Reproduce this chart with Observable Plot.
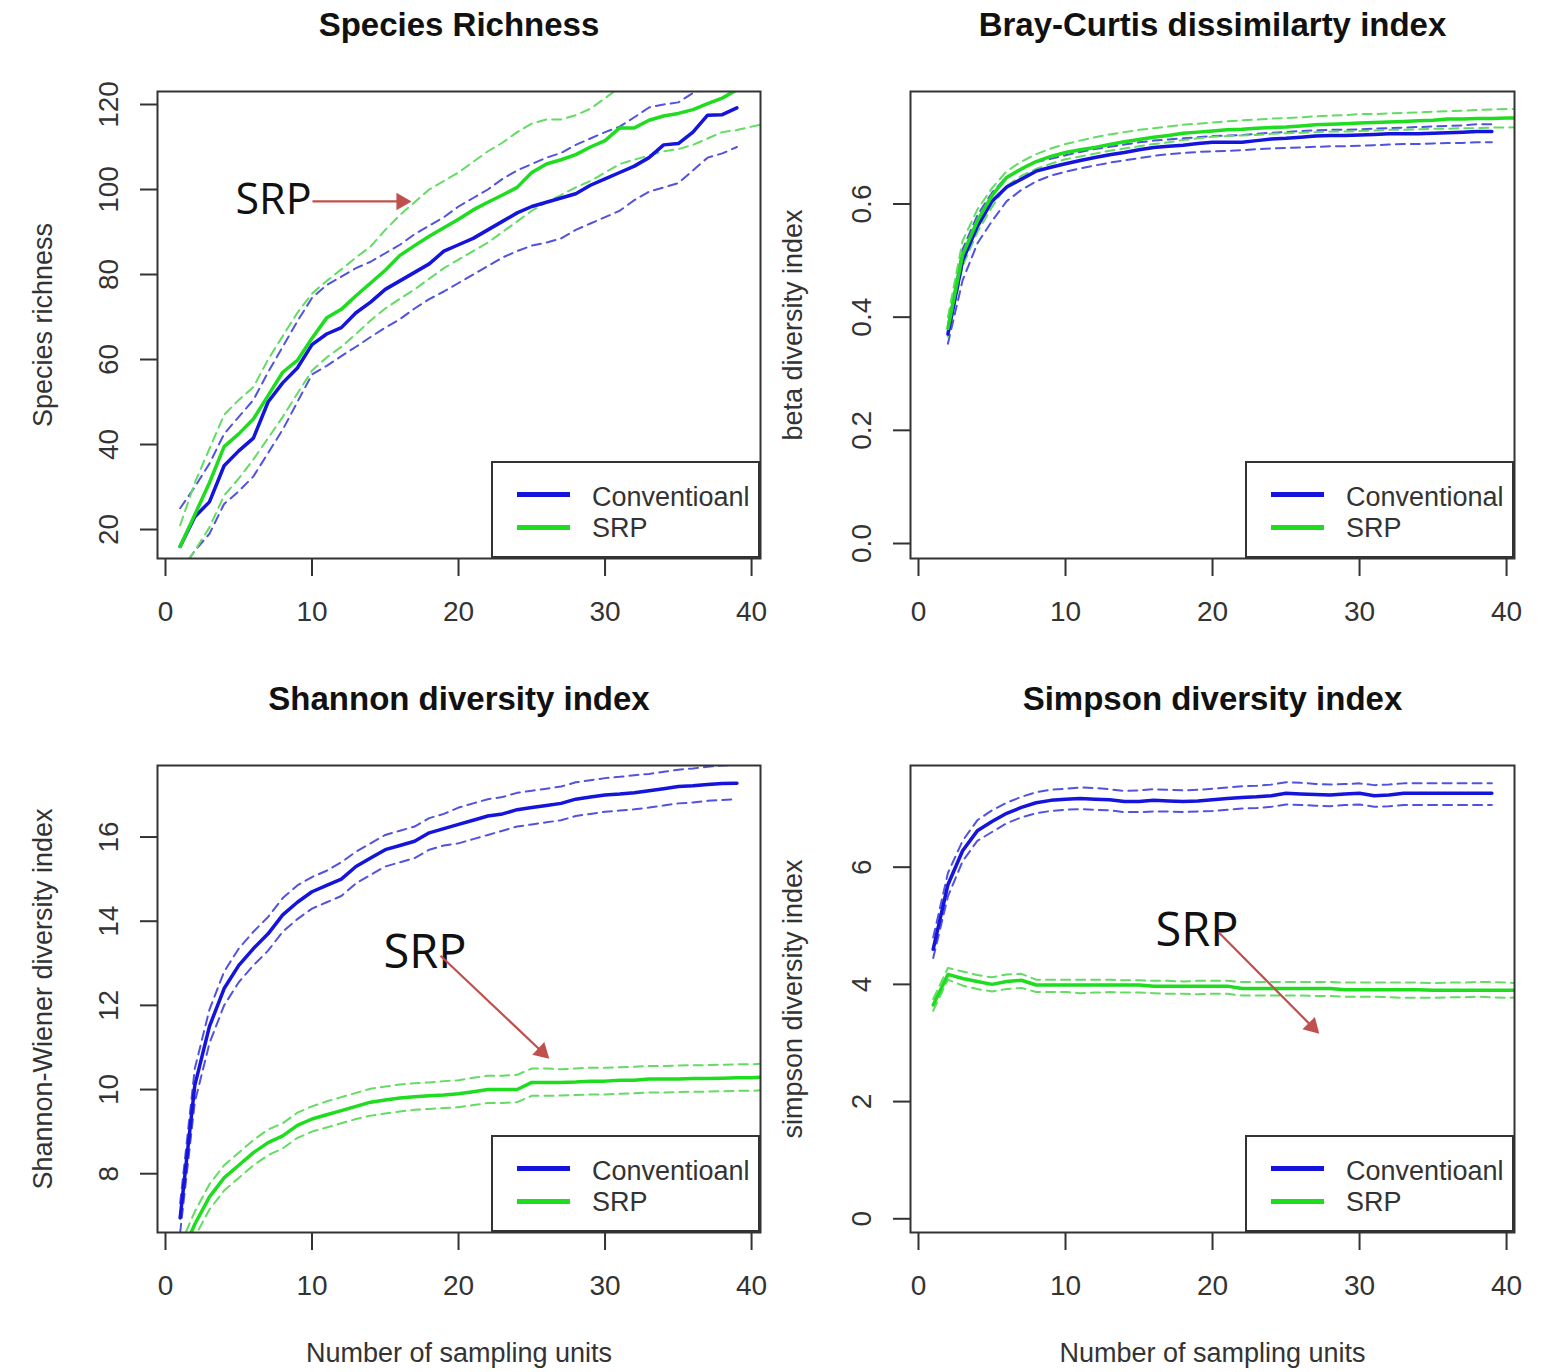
<!DOCTYPE html>
<html>
<head>
<meta charset="utf-8">
<script src="https://cdn.jsdelivr.net/npm/d3@7"></script>
<script src="https://cdn.jsdelivr.net/npm/@observablehq/plot@0.6"></script>
<style>
  body { margin: 0; background: #fff; }
  #root { position: relative; width: 1541px; height: 1372px; overflow: hidden; background: #fff;
          font-family: "Liberation Sans", Arial, sans-serif; }
  #root svg { position: absolute; overflow: visible; }
  .legend { position: absolute; background: #fff; border: 2px solid #333; box-sizing: border-box; }
  .lk { position: absolute; left: 24px; width: 53px; height: 5px; margin-top: -2.5px; }
  .lt { position: absolute; left: 99px; font-size: 27px; line-height: 27px; color: #333; transform: translateY(-50%); white-space: nowrap; }
</style>
</head>
<body>
<div id="root"></div>
<script>
// ---------------- DATA ----------------
const unitsConv   = [1,2,3,4,5,6,7,8,9,10,11,12,13,14,15,16,17,18,19,20,21,22,23,24,25,26,27,28,29,30,31,32,33,34,35,36,37,38,39];
const unitsSRP    = [1,2,3,4,5,6,7,8,9,10,11,12,13,14,15,16,17,18,19,20,21,22,23,24,25,26,27,28,29,30,31,32,33,34,35,36,37,38,39,40,41];
const unitsConvBC = [2,3,4,5,6,7,8,9,10,11,12,13,14,15,16,17,18,19,20,21,22,23,24,25,26,27,28,29,30,31,32,33,34,35,36,37,38,39];
const unitsSRPBC  = [2,3,4,5,6,7,8,9,10,11,12,13,14,15,16,17,18,19,20,21,22,23,24,25,26,27,28,29,30,31,32,33,34,35,36,37,38,39,40,41];

// Species richness
const richConvMean  = [16,23,26.5,35,38.5,41.5,50,54.5,58,63.5,66,67.5,71,73.5,76.5,78.5,80.5,82.5,85.5,87,88.5,90.5,92.5,94.5,96,97,98,99,101,102.5,104,105.5,107.5,110.5,110.8,113.5,117.5,117.6,119.2];
const richConvUpper = [25,30,35.5,42.5,46.5,50.5,57,63,69,74.5,77.5,79.5,81.5,83,85,87,89.5,91.5,93.5,96,98,100,102.5,104.5,106,107.5,108.6,110.5,112,113.5,114.8,117,119.3,120,120.5,122.7,124,125,126];
const richConvLower = [10,15,19,26,29,32.5,38,43.5,50,56.5,58.5,60.8,63,65.3,67.5,69.5,72,74.2,76,78,80,82,84,85.5,86.8,87.5,88.5,90.5,92,93.5,95,97.5,99.5,100.5,101.5,104.5,107.5,108.5,110];
const richSRPMean   = [16,23.5,31,39.5,42.5,46,51.5,57,59.8,65,69.8,71.8,75,78,81,84.5,86.8,89,91,93,95.2,97,98.7,100.5,104,106,107,108.2,110,111.5,114.5,114.5,116.3,117.3,117.9,118.8,120.2,121.5,123.5,125,126.5];
const richSRPUpper  = [21,31,39,47,50.5,53.5,60,65.5,71,75.5,78.5,81.2,84,86.6,90.5,94,97,100,102,104,106.5,109,111,113.5,115.5,116.5,116.5,117.5,119,121.5,124,125.5,127,128,129,130,131,132,133,134,135];
const richSRPLower  = [10,15,20.5,28,32,36.5,41.5,46.5,52,57.4,60.5,63,66,69.2,72,74.3,76.5,79,81.5,83.5,85.5,87.5,90,92.5,95,97,98.7,100.5,102,104,106,107,108,109,109.5,110.5,112,113.5,114,114.8,115.5];

// Bray-Curtis
const bcConvMean  = [0.37,0.50,0.56,0.605,0.63,0.644,0.658,0.665,0.671,0.677,0.682,0.687,0.691,0.696,0.70,0.702,0.704,0.707,0.709,0.709,0.709,0.712,0.715,0.716,0.718,0.72,0.721,0.721,0.722,0.723,0.724,0.724,0.724,0.725,0.726,0.727,0.728,0.728];
const bcConvUpper = [0.385,0.52,0.58,0.62,0.648,0.662,0.674,0.68,0.686,0.692,0.697,0.701,0.705,0.709,0.712,0.714,0.716,0.718,0.72,0.721,0.722,0.724,0.726,0.727,0.729,0.73,0.731,0.731,0.732,0.733,0.734,0.735,0.736,0.737,0.738,0.739,0.741,0.741];
const bcConvLower = [0.353,0.465,0.53,0.57,0.605,0.625,0.64,0.65,0.657,0.663,0.668,0.673,0.677,0.681,0.685,0.688,0.69,0.692,0.693,0.694,0.695,0.697,0.698,0.699,0.70,0.701,0.702,0.702,0.703,0.704,0.705,0.706,0.706,0.707,0.708,0.708,0.709,0.709];
const bcSRPMean   = [0.38,0.51,0.57,0.615,0.647,0.662,0.675,0.684,0.691,0.696,0.70,0.705,0.71,0.714,0.718,0.721,0.725,0.727,0.729,0.731,0.732,0.734,0.735,0.736,0.738,0.74,0.741,0.742,0.743,0.744,0.745,0.746,0.747,0.748,0.75,0.75,0.751,0.751,0.752,0.752];
const bcSRPUpper  = [0.40,0.535,0.59,0.628,0.658,0.675,0.688,0.698,0.706,0.712,0.718,0.723,0.727,0.731,0.734,0.737,0.74,0.742,0.744,0.746,0.748,0.749,0.751,0.752,0.753,0.755,0.756,0.757,0.759,0.759,0.76,0.761,0.762,0.763,0.764,0.765,0.766,0.767,0.768,0.768];
const bcSRPLower  = [0.365,0.49,0.55,0.595,0.632,0.65,0.662,0.671,0.679,0.684,0.689,0.694,0.698,0.702,0.706,0.709,0.713,0.716,0.719,0.72,0.721,0.722,0.724,0.725,0.726,0.727,0.728,0.728,0.729,0.73,0.731,0.731,0.732,0.733,0.733,0.734,0.734,0.735,0.735,0.736];

// Shannon
const shConvMean  = [6.95,10.1,11.5,12.4,12.95,13.35,13.7,14.15,14.45,14.7,14.85,15.0,15.3,15.5,15.7,15.8,15.9,16.1,16.2,16.3,16.4,16.5,16.55,16.65,16.7,16.75,16.8,16.9,16.95,17.0,17.02,17.05,17.1,17.15,17.2,17.22,17.25,17.27,17.28];
const shConvUpper = [7.3,10.5,11.9,12.8,13.35,13.75,14.1,14.55,14.85,15.05,15.2,15.4,15.65,15.85,16.05,16.15,16.25,16.45,16.55,16.7,16.8,16.9,16.95,17.05,17.1,17.15,17.2,17.3,17.35,17.4,17.43,17.47,17.5,17.55,17.6,17.63,17.67,17.7,17.72];
const shConvLower = [6.6,9.7,11.1,12.0,12.55,12.95,13.3,13.75,14.05,14.3,14.45,14.6,14.9,15.1,15.3,15.4,15.5,15.7,15.8,15.85,15.95,16.05,16.15,16.25,16.3,16.35,16.4,16.5,16.55,16.6,16.63,16.66,16.7,16.75,16.8,16.82,16.86,16.88,16.9];
const shSRPMean   = [6.0,6.8,7.45,7.9,8.2,8.5,8.74,8.9,9.15,9.3,9.4,9.5,9.6,9.7,9.75,9.8,9.83,9.85,9.87,9.9,9.95,10.0,10.0,10.0,10.17,10.17,10.17,10.18,10.2,10.2,10.22,10.22,10.25,10.25,10.25,10.26,10.26,10.27,10.28,10.28,10.3];
const shSRPUpper  = [6.3,7.1,7.75,8.2,8.5,8.8,9.05,9.2,9.45,9.6,9.72,9.82,9.92,10.02,10.07,10.12,10.15,10.17,10.2,10.22,10.28,10.33,10.33,10.35,10.5,10.5,10.48,10.5,10.52,10.52,10.53,10.54,10.56,10.56,10.57,10.58,10.58,10.59,10.6,10.6,10.62];
const shSRPLower  = [5.7,6.5,7.15,7.6,7.9,8.2,8.44,8.6,8.85,9.0,9.1,9.2,9.3,9.38,9.43,9.48,9.52,9.54,9.56,9.58,9.63,9.68,9.68,9.7,9.85,9.85,9.86,9.87,9.88,9.88,9.9,9.91,9.93,9.93,9.94,9.95,9.95,9.96,9.97,9.97,9.99];

// Simpson
const siConvMean  = [4.6,5.7,6.28,6.62,6.78,6.92,7.02,7.1,7.14,7.16,7.17,7.16,7.15,7.12,7.12,7.14,7.13,7.12,7.13,7.15,7.17,7.19,7.2,7.22,7.26,7.25,7.24,7.23,7.25,7.26,7.22,7.23,7.26,7.26,7.26,7.26,7.26,7.26,7.26];
const siConvUpper = [4.8,5.9,6.45,6.8,6.97,7.1,7.2,7.28,7.32,7.34,7.36,7.35,7.33,7.3,7.31,7.33,7.32,7.31,7.32,7.34,7.36,7.38,7.39,7.41,7.45,7.44,7.42,7.41,7.42,7.43,7.4,7.41,7.43,7.43,7.43,7.43,7.43,7.43,7.43];
const siConvLower = [4.45,5.5,6.1,6.45,6.6,6.75,6.85,6.92,6.96,6.98,6.99,6.98,6.97,6.94,6.94,6.95,6.95,6.94,6.95,6.96,6.98,7.0,7.01,7.03,7.07,7.06,7.05,7.04,7.06,7.07,7.03,7.04,7.06,7.06,7.06,7.06,7.06,7.06,7.06];
const siSRPMean   = [3.65,4.17,4.1,4.05,4.0,4.05,4.07,3.99,3.99,3.99,3.99,3.99,3.99,3.99,3.99,3.97,3.97,3.97,3.97,3.97,3.97,3.93,3.93,3.93,3.93,3.93,3.93,3.93,3.91,3.91,3.91,3.91,3.91,3.91,3.9,3.9,3.9,3.9,3.9,3.9,3.9];
const siSRPUpper  = [3.75,4.28,4.22,4.16,4.12,4.17,4.18,4.08,4.08,4.08,4.08,4.08,4.08,4.07,4.07,4.06,4.06,4.05,4.06,4.06,4.06,4.04,4.04,4.04,4.04,4.04,4.04,4.04,4.03,4.03,4.03,4.03,4.03,4.03,4.02,4.03,4.03,4.04,4.04,4.03,4.02];
const siSRPLower  = [3.55,4.08,3.98,3.92,3.88,3.92,3.94,3.87,3.87,3.87,3.85,3.86,3.87,3.86,3.86,3.85,3.84,3.84,3.83,3.84,3.84,3.81,3.81,3.81,3.81,3.81,3.8,3.8,3.79,3.79,3.79,3.78,3.77,3.77,3.77,3.78,3.78,3.79,3.78,3.77,3.78];

// Tick labels
const xTicks        = [0, 10, 20, 30, 40];
const richTicks     = [20, 40, 60, 80, 100, 120];
const bcTicks       = [0, 0.2, 0.4, 0.6];
const shTicks       = [8, 10, 12, 14, 16];
const siTicks       = [0, 2, 4, 6];

// Text
const titles      = ["Species Richness", "Bray-Curtis dissimilarty index", "Shannon diversity index", "Simpson diversity index"];
const yLabels     = ["Species richness", "beta diversity index", "Shannon-Wiener diversity index", "simpson diversity index"];
const xLabel      = "Number of sampling units";
const legendNames = [["Conventioanl", "SRP"], ["Conventional", "SRP"], ["Conventioanl", "SRP"], ["Conventioanl", "SRP"]];

// "SRP" call-outs (data units): text anchor + arrow from (x1,y1) to tip (x2,y2)
const annRich = {label: "SRP", tx: 4.78, ty: 97.4, x1: 10.03, y1: 97.2, x2: 16.72, y2: 97.2, size: 43};
const annSh   = {label: "SRP", tx: 14.88, ty: 13.25, x1: 18.77, y1: 13.18, x2: 26.14, y2: 10.75, size: 47};
const annSi   = {label: "SRP", tx: 16.12, ty: 4.92, x1: 20.41, y1: 4.89, x2: 27.21, y2: 3.17, size: 47};

// ---------------- STYLE ----------------
const BLUE = "#1414dc", BLUE_CI = "#5252e0", GREEN = "#1edc1e", GREEN_CI = "#62dc62", RED = "#c0504d", INK = "#333";
const FONT = '"Liberation Sans", Arial, Helvetica, sans-serif';
const intFmt = d3.format("d"), oneDec = d3.format(".1f");

const panels = [
  {left: 0,   top: 0,   width: 770, height: 640, mL: 157, mR: 10, mT: 91,  mB: 82,
   xDomain: [-0.546, 40.61], yDomain: [13.18, 123.06], yTicks: richTicks, fmt: intFmt, showX: false,
   conv: {x: unitsConv, mean: richConvMean, upper: richConvUpper, lower: richConvLower},
   srp:  {x: unitsSRP,  mean: richSRPMean,  upper: richSRPUpper,  lower: richSRPLower}, ann: annRich},
  {left: 770, top: 0,   width: 771, height: 640, mL: 140, mR: 27, mT: 91,  mB: 82,
   xDomain: [-0.544, 40.54], yDomain: [-0.0265, 0.7988], yTicks: bcTicks, fmt: oneDec, showX: false,
   conv: {x: unitsConvBC, mean: bcConvMean, upper: bcConvUpper, lower: bcConvLower},
   srp:  {x: unitsSRPBC,  mean: bcSRPMean,  upper: bcSRPUpper,  lower: bcSRPLower}, ann: null},
  {left: 0,   top: 660, width: 770, height: 712, mL: 157, mR: 10, mT: 105, mB: 140,
   xDomain: [-0.546, 40.61], yDomain: [6.603, 17.70], yTicks: shTicks, fmt: intFmt, showX: true,
   conv: {x: unitsConv, mean: shConvMean, upper: shConvUpper, lower: shConvLower},
   srp:  {x: unitsSRP,  mean: shSRPMean,  upper: shSRPUpper,  lower: shSRPLower}, ann: annSh},
  {left: 770, top: 660, width: 771, height: 712, mL: 140, mR: 27, mT: 105, mB: 140,
   xDomain: [-0.544, 40.54], yDomain: [-0.234, 7.735], yTicks: siTicks, fmt: intFmt, showX: true,
   conv: {x: unitsConv, mean: siConvMean, upper: siConvUpper, lower: siConvLower},
   srp:  {x: unitsSRP,  mean: siSRPMean,  upper: siSRPUpper,  lower: siSRPLower}, ann: annSi}
];

const root = document.getElementById("root");

panels.forEach((cfg, idx) => {
  const W = cfg.width - cfg.mL - cfg.mR, H = cfg.height - cfg.mT - cfg.mB;
  const kx = W / (cfg.xDomain[1] - cfg.xDomain[0]);
  const ky = H / (cfg.yDomain[1] - cfg.yDomain[0]);
  const rows = (xs, ys) => xs.map((x, i) => ({x, y: ys[i]}));
  const series = [
    [cfg.conv.x, cfg.conv.upper, BLUE_CI, 2, "9,6"],
    [cfg.conv.x, cfg.conv.lower, BLUE_CI, 2, "9,6"],
    [cfg.srp.x,  cfg.srp.upper,  GREEN_CI, 2, "9,6"],
    [cfg.srp.x,  cfg.srp.lower,  GREEN_CI, 2, "9,6"],
    [cfg.conv.x, cfg.conv.mean,  BLUE, 3.5, null],
    [cfg.srp.x,  cfg.srp.mean,   GREEN, 3.5, null]
  ];
  const marks = [];
  series.forEach(([xs, ys, stroke, sw, dash]) => {
    const o = {x: "x", y: "y", stroke, strokeWidth: sw, clip: true, strokeLinejoin: "round"};
    if (dash) o.strokeDasharray = dash;
    marks.push(Plot.line(rows(xs, ys), o));
  });
  marks.push(Plot.frame({stroke: INK, strokeWidth: 2}));
  marks.push(Plot.axisX(xTicks, {tickSize: 18, tickPadding: 25, fontSize: 28, color: INK, strokeWidth: 2, label: null, tickFormat: intFmt}));
  marks.push(Plot.axisY(cfg.yTicks, {tickSize: 17, tickPadding: 23, tickRotate: -90, fontSize: 28, color: INK,
    strokeWidth: 2, label: null, tickFormat: cfg.fmt}));
  // title
  marks.push(Plot.text([titles[idx]], {text: d => d, frameAnchor: "top", dy: -56, lineAnchor: "bottom",
    textAnchor: "middle", fontSize: 33, fontWeight: "bold", fill: "#111"}));
  // y label
  marks.push(Plot.text([yLabels[idx]], {text: d => d, frameAnchor: "left", rotate: -90, dx: idx % 2 ? -109 : -106,
    textAnchor: "middle", lineAnchor: "bottom", fontSize: 27, fill: INK}));
  if (cfg.showX) {
    marks.push(Plot.text([xLabel], {text: d => d, frameAnchor: "bottom", dy: 129, lineAnchor: "bottom",
      textAnchor: "middle", fontSize: 27, fill: INK}));
  }
  if (cfg.ann) {
    const a = cfg.ann;
    const ang = Math.atan2(-(a.y2 - a.y1) * ky, (a.x2 - a.x1) * kx);
    const back = 9;
    const head = {x: a.x2 - Math.cos(ang) * back / kx, y: a.y2 + Math.sin(ang) * back / ky};
    marks.push(Plot.text([a], {x: "tx", y: "ty", text: "label", textAnchor: "start", fontFamily: '"Open Sans", "Noto Sans", sans-serif',
      fontSize: a.size, fill: "#111"}));
    marks.push(Plot.link([a], {x1: "x1", y1: "y1", x2: () => head.x, y2: () => head.y, stroke: RED, strokeWidth: 2.2}));
    marks.push(Plot.dot([head], {x: "x", y: "y", symbol: "triangle", r: 6.5, fill: RED, stroke: "none",
      rotate: ang * 180 / Math.PI + 90}));
  }
  const svg = Plot.plot({
    width: cfg.width, height: cfg.height,
    marginLeft: cfg.mL, marginRight: cfg.mR, marginTop: cfg.mT, marginBottom: cfg.mB,
    style: {fontFamily: FONT, background: "transparent", overflow: "visible"},
    x: {domain: cfg.xDomain},
    y: {domain: cfg.yDomain},
    marks
  });
  svg.style.left = cfg.left + "px";
  svg.style.top = cfg.top + "px";
  root.appendChild(svg);

  // legend box, anchored at the plot frame's bottom-right corner
  const lg = document.createElement("div");
  lg.className = "legend";
  const lw = 269, lh = 97;
  lg.style.left = (cfg.left + cfg.width - cfg.mR - lw) + "px";
  lg.style.top = (cfg.top + cfg.height - cfg.mB - lh) + "px";
  lg.style.width = lw + "px";
  lg.style.height = lh + "px";
  const names = legendNames[idx];
  [[names[0], BLUE, 31, 34], [names[1], GREEN, 64, 65]].forEach(([name, col, ly, ty]) => {
    const k = document.createElement("div");
    k.className = "lk"; k.style.top = ly + "px"; k.style.background = col;
    const t = document.createElement("div");
    t.className = "lt"; t.style.top = ty + "px"; t.textContent = name;
    lg.appendChild(k); lg.appendChild(t);
  });
  root.appendChild(lg);
});
</script>
</body>
</html>
